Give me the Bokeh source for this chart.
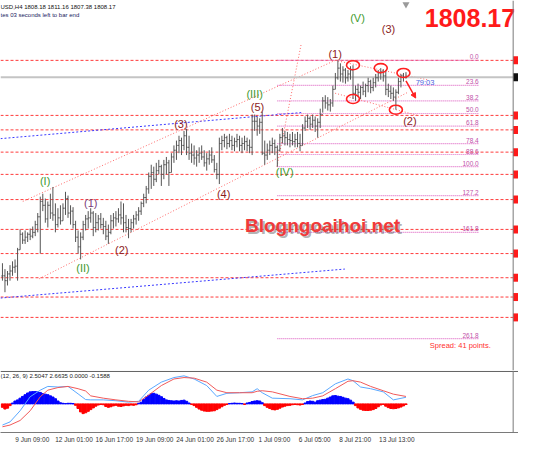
import numpy as np
from bokeh.plotting import figure
from bokeh.layouts import column
from bokeh.models import ColumnDataSource, Range1d, Span, FixedTicker, Arrow, NormalHead
from bokeh.core.properties import value
from bokeh.embed import file_html
from bokeh.resources import INLINE

# ---------------- data (XAUUSD H4) ----------------
high = [1700.4, 1697.0, 1695.9, 1699.3, 1701.5, 1702.6, 1709.3, 1720.0, 1718.3, 1719.4,
        1718.3, 1720.5, 1721.7, 1725.0, 1729.5, 1739.0, 1740.7, 1737.9, 1736.2, 1740.7,
        1744.6, 1735.1, 1732.3, 1734.0, 1735.1, 1741.8, 1739.6, 1734.0, 1732.9, 1725.0,
        1719.4, 1718.3, 1725.0, 1728.4, 1730.6, 1732.3, 1730.6, 1729.5, 1728.4, 1729.5,
        1726.7, 1725.0, 1722.8, 1728.4, 1729.5, 1730.6, 1732.3, 1736.2, 1735.1, 1728.4,
        1726.1, 1726.1, 1728.4, 1730.6, 1732.9, 1736.2, 1740.7, 1745.2, 1753.0, 1757.5,
        1756.4, 1758.6, 1760.3, 1757.5, 1760.3, 1762.0, 1760.3, 1764.2, 1768.7, 1771.5,
        1774.3, 1773.2, 1777.1, 1778.2, 1774.3, 1769.8, 1768.7, 1765.9, 1767.6, 1768.7,
        1765.9, 1764.2, 1765.9, 1767.6, 1763.1, 1758.6, 1773.2, 1774.3, 1775.4, 1774.3,
        1775.4, 1774.3, 1773.2, 1775.4, 1774.3, 1773.2, 1774.3, 1773.2, 1772.1, 1786.6,
        1786.6, 1785.5, 1784.4, 1788.3, 1771.5, 1769.8, 1771.5, 1773.2, 1772.1, 1768.7,
        1775.4, 1778.8, 1777.1, 1776.5, 1775.4, 1776.5, 1775.4, 1776.5, 1775.4, 1781.0,
        1785.5, 1786.6, 1785.5, 1786.6, 1785.5, 1784.4, 1790.0, 1796.7, 1797.8, 1796.7,
        1795.6, 1803.4, 1810.7, 1818.0, 1816.3, 1814.6, 1813.5, 1812.4, 1814.6, 1815.2,
        1803.4, 1804.5, 1803.4, 1805.7, 1804.5, 1807.9, 1806.8, 1807.9, 1810.1, 1812.4,
        1813.5, 1812.9, 1812.4, 1804.5, 1803.4, 1802.3, 1801.2, 1807.9, 1810.1, 1810.7,
        1811.16]
low = [1690.3, 1683.6, 1687.5, 1690.3, 1693.1, 1694.8, 1690.3, 1708.2, 1711.6, 1711.6,
       1712.7, 1713.8, 1714.9, 1716.1, 1718.3, 1706.0, 1730.6, 1723.9, 1721.1, 1726.1,
       1725.0, 1718.3, 1721.1, 1722.8, 1725.0, 1728.4, 1726.7, 1722.8, 1720.5, 1712.7,
       1706.0, 1702.6, 1713.8, 1719.4, 1720.5, 1723.9, 1716.1, 1718.3, 1719.4, 1720.5,
       1717.2, 1713.8, 1711.6, 1717.2, 1720.5, 1721.7, 1723.9, 1722.8, 1718.3, 1718.3,
       1714.9, 1718.3, 1720.5, 1722.8, 1725.0, 1728.4, 1732.9, 1735.1, 1740.7, 1743.5,
       1745.2, 1747.4, 1751.9, 1745.2, 1749.1, 1751.9, 1745.2, 1753.0, 1758.6, 1760.3,
       1764.2, 1763.1, 1765.9, 1763.1, 1760.3, 1758.6, 1757.5, 1756.4, 1758.6, 1760.3,
       1756.4, 1754.1, 1757.5, 1758.6, 1753.0, 1749.1, 1746.3, 1765.9, 1767.6, 1766.5,
       1767.6, 1765.9, 1765.3, 1767.6, 1765.3, 1764.2, 1765.9, 1765.3, 1764.2, 1763.1,
       1777.1, 1774.3, 1775.4, 1763.1, 1757.5, 1760.3, 1763.1, 1764.2, 1763.1, 1756.4,
       1765.3, 1769.8, 1768.7, 1768.7, 1767.6, 1768.7, 1767.6, 1767.6, 1765.3, 1768.7,
       1777.1, 1778.8, 1777.7, 1778.8, 1776.5, 1773.2, 1778.8, 1787.7, 1790.0, 1788.9,
       1788.3, 1791.1, 1801.2, 1806.8, 1805.7, 1805.1, 1804.5, 1805.7, 1806.8, 1795.6,
       1794.5, 1796.7, 1795.6, 1797.8, 1796.7, 1799.5, 1798.9, 1800.1, 1802.3, 1805.7,
       1806.8, 1805.7, 1797.8, 1796.7, 1795.6, 1794.5, 1789.4, 1798.4, 1802.3, 1805.7,
       1807.38]
close = [1693.1, 1690.3, 1694.2, 1695.9, 1698.1, 1698.7, 1708.2, 1717.2, 1713.8, 1715.5,
         1717.2, 1716.1, 1718.3, 1722.8, 1727.3, 1736.2, 1734.0, 1726.1, 1734.0, 1729.5,
         1728.4, 1722.8, 1726.7, 1725.0, 1732.3, 1737.9, 1729.5, 1730.6, 1722.8, 1715.5,
         1709.9, 1715.5, 1722.8, 1726.1, 1726.7, 1729.5, 1721.1, 1723.9, 1726.1, 1722.8,
         1721.7, 1716.1, 1718.3, 1725.0, 1726.7, 1726.1, 1728.4, 1726.7, 1723.9, 1721.1,
         1720.5, 1723.9, 1726.1, 1728.4, 1730.6, 1735.1, 1738.5, 1743.5, 1750.8, 1753.0,
         1749.1, 1754.1, 1756.4, 1751.9, 1757.5, 1758.6, 1753.0, 1762.0, 1765.9, 1768.7,
         1771.5, 1768.7, 1774.3, 1767.6, 1764.2, 1763.1, 1761.4, 1763.1, 1764.2, 1762.0,
         1758.6, 1760.9, 1763.1, 1760.3, 1754.7, 1751.9, 1769.8, 1771.5, 1773.2, 1769.8,
         1771.5, 1768.7, 1770.9, 1772.1, 1768.7, 1769.8, 1770.9, 1768.7, 1767.6, 1782.7,
         1782.7, 1779.9, 1782.1, 1764.2, 1763.1, 1765.9, 1768.7, 1769.8, 1767.6, 1765.9,
         1773.2, 1774.3, 1773.2, 1772.1, 1771.5, 1770.9, 1772.1, 1769.8, 1768.7, 1778.8,
         1782.7, 1784.4, 1781.0, 1783.3, 1779.9, 1782.1, 1786.6, 1794.5, 1793.3, 1792.2,
         1793.3, 1801.2, 1807.9, 1813.5, 1810.1, 1812.4, 1807.9, 1810.1, 1812.4, 1798.9,
         1801.2, 1799.5, 1802.3, 1800.1, 1803.4, 1805.7, 1802.3, 1805.1, 1807.9, 1810.7,
         1811.3, 1809.0, 1801.2, 1800.1, 1798.9, 1796.7, 1799.5, 1805.7, 1809.0, 1808.18,
         1808.17]
first_open = 1693.0

macd_hist = [-1.2, -1.8, -1.5, -0.6, 0.3, 1.0, 1.4, 2.0, 2.6, 3.2,
             3.8, 4.2, 4.3, 4.3, 4.2, 4.0, 3.6, 3.4, 3.2, 2.8,
             2.4, 1.8, 1.0, 0.4, 0.2, 0.1, 0.2, 0.2, 0.1, -0.5,
             -1.6, -2.8, -3.4, -3.1, -2.6, -2.0, -1.4, -0.8, -0.4, -0.2,
             -0.3, -0.9, -1.2, -1.0, -0.7, -0.5, -0.8, -0.9, -0.7, -0.5,
             -0.6, -0.4, -0.5, -0.3, 0.2, 0.6, 1.5, 2.4, 3.0, 3.6,
             3.7, 3.4, 3.0, 2.5, 1.9, 1.4, 1.2, 1.1, 1.0, 1.1,
             1.0, 1.2, 1.3, 0.9, 0.3, -0.2, -0.6, -1.2, -1.8, -2.2,
             -2.5, -2.6, -2.6, -2.5, -2.4, -2.0, -1.5, -1.0, -0.5, -0.2,
             0.1, 0.2, 0.3, 0.2, 0.2, 0.1, -0.2, 0.3, 0.5, 0.8,
             1.0, 1.1, 1.0, 0.4, -0.6, -1.2, -1.6, -2.0, -2.1, -1.9,
             -1.5, -1.1, -0.8, -0.6, -0.5, -0.3, -0.2, -0.3, -0.4, -0.2,
             0.3, 0.8, 1.0, 0.9, 0.6, 1.1, 1.3, 1.5, 1.6, 2.0,
             2.4, 2.8, 2.9, 2.7, 2.6, 2.3, 2.0, 1.8, 1.3, 0.6,
             -0.6, -1.4, -1.9, -2.2, -2.3, -2.3, -2.2, -2.0, -1.6, -1.0,
             -0.4, -0.2, -0.8, -1.3, -1.6, -1.7, -1.6, -1.4, -1.1, -0.7,
             -0.2]
macd_bars = [0, 3, 7, 11, 15, 18, 22, 26, 30, 33, 35, 40, 45, 50, 54, 58, 63, 68, 72, 76,
             81, 85, 89, 94, 99, 101, 103, 107, 114, 119, 123, 127, 132, 137, 139, 142, 146,
             151, 155, 160]
macd_main = [-7.4, -6.3, -2.4, 2.5, 4.8, 6.1, 5.9, 6.1, 3.5, 1.5, 1.4, 1.4, 1.1, 0.6, 0.9,
             4.8, 7.6, 9.2, 9.8, 8.7, 6.4, 2.6, 3.7, 3.9, 4.2, 5.3, 3.9, 2.0, 1.8, 1.4, 2.9,
             3.9, 7.0, 8.7, 8.1, 5.9, 5.3, 4.2, 1.4, 2.3]
macd_signal = [-8.0, -7.4, -5.8, -2.4, 2.5, 4.8, 5.7, 6.1, 5.3, 4.5, 2.8, 2.0, 1.4, 0.9, 0.7,
               3.1, 6.4, 8.7, 9.2, 9.0, 7.6, 4.8, 3.9, 3.9, 3.9, 4.4, 4.6, 4.2, 2.6, 1.8, 2.0,
               2.8, 5.3, 7.9, 8.1, 7.6, 6.1, 4.6, 3.4, 2.6]

red_levels = [1818.0, 1786.1, 1777.7, 1764.8, 1751.9, 1737.3, 1720.0, 1706.0, 1692.0, 1680.8, 1669.0]
fib_ratios = [0.0, 23.6, 38.2, 50.0, 61.8, 78.4, 88.6, 100.0, 127.2, 161.8, 261.8]
fib_top_bar, fib_bottom_bar = 133, 109

tick_bars = [6, 22, 38, 54, 70, 86, 102, 118, 134, 150]
tick_labels = ["9 Jun 09:00", "12 Jun 01:00", "16 Jun 17:00", "19 Jun 09:00", "24 Jun 01:00",
               "26 Jun 17:00", "1 Jul 09:00", "6 Jul 05:00", "8 Jul 21:00", "13 Jul 13:00"]

# ---------------- layout helpers (reference pixel -> data) ----------------
W, H = 518, 446
SY = H / 462.0
H_MAIN = int(round(383 * SY))
H_MACD = H - H_MAIN


def bx(xr):
    return (xr - 2.0) / 2.6


def py(yr):
    return 1852.7 - 0.56 * yr


def my(yr):
    return (418.0 - yr) / 3.0


FONT = value("Liberation Sans")
GREEN = "#3f9a2e"
DRED = "#8b1c1c"
BAR = "#555555"
BORDER = "#7a7a7a"

n = len(close)
idx = np.arange(n)
opens = [first_open] + close[:-1]

xr = Range1d(bx(0), bx(534))
p = figure(width=W, height=H_MAIN, x_range=xr, y_range=Range1d(py(383), py(0)),
           output_backend="svg", toolbar_location=None, min_border=0,
           x_axis_location=None, y_axis_location=None)
p.grid.visible = False
p.outline_line_color = None

x_border = bx(528.5)

# red support / resistance levels
p.segment(x0=[xr.start] * len(red_levels), y0=red_levels, x1=[x_border] * len(red_levels),
          y1=red_levels, line_color="#ff3b3b", line_width=1, line_dash="3 2")

# fibonacci retracement
fib_hi, fib_lo = high[fib_top_bar], low[fib_bottom_bar]
fib_prices = [fib_hi - r / 100.0 * (fib_hi - fib_lo) for r in fib_ratios]
fib_end = bx(493)
p.segment(x0=[fib_bottom_bar] * len(fib_prices), y0=fib_prices, x1=[fib_end] * len(fib_prices),
          y1=fib_prices, line_color="#e070c8", line_width=1.2, line_dash="1 1")
p.text(x=[fib_end] * len(fib_prices), y=fib_prices, text=["%.1f" % r for r in fib_ratios],
       text_font=FONT, text_font_size="6.5px", text_color="#c050a8",
       text_align="right", text_baseline="bottom", y_offset=-1)

# blue dotted trend lines
blue_lines = [((0, 308), (355, 278)), ((0, 143), (310, 116))]
for (a, b) in blue_lines:
    p.line([bx(a[0]), bx(b[0])], [py(a[1]), py(b[1])], line_color="#3a3aff",
           line_width=1, line_dash="2 2")

# red dotted channel lines
chan = [((23, 208), (345, 62)), ((40, 288), (420, 95)), ((285, 172), (310, 45)),
        ((345, 62), (440, 82)), ((345, 96), (430, 119))]
for (a, b) in chan:
    p.line([bx(a[0]), bx(b[0])], [py(a[1]), py(b[1])], line_color="#ff6a6a",
           line_width=1, line_dash="1 2")

# current price line
p.line([xr.start, x_border], [close[-1], close[-1]], line_color="#c4c4c4", line_width=2)

# OHLC bars
p.segment(x0=idx, y0=low, x1=idx, y1=high, line_color=BAR, line_width=1)
p.segment(x0=idx - 0.45, y0=opens, x1=idx, y1=opens, line_color=BAR, line_width=1)
p.segment(x0=idx, y0=close, x1=idx + 0.45, y1=close, line_color=BAR, line_width=1)

# red ellipses on swing points
cb = [139, 139, 150, 156, 159]
cy = [high[139], low[139], high[150], low[156], high[159]]
p.ellipse(x=cb, y=cy, width=13, height=9, width_units="screen", height_units="screen",
          fill_color=None, line_color="#ff2020", line_width=1.6)

p.add_layout(Arrow(end=NormalHead(size=5, fill_color="#ff2020", line_color="#ff2020"),
                   x_start=n - 1, y_start=close[-1] - 2, x_end=bx(428), y_end=py(101),
                   line_color="#ff2020", line_width=1.5))

# wave labels (reference positions)
waves = [("(I)", 46, 187, GREEN), ("(II)", 85, 277, GREEN), ("(III)", 262, 97, GREEN),
         ("(IV)", 293, 178, GREEN), ("(V)", 368, 18, GREEN),
         ("(1)", 93, 210, "#7a3a7a"), ("(2)", 125, 258, DRED), ("(3)", 186, 128, DRED),
         ("(4)", 230, 200, DRED), ("(5)", 265, 110, DRED), ("(1)", 345, 55, DRED),
         ("(2)", 422, 125, DRED), ("(3)", 400, 30, DRED)]
wsrc = ColumnDataSource(dict(x=[bx(w[1]) for w in waves], y=[py(w[2]) for w in waves],
                             t=[w[0] for w in waves], c=[w[3] for w in waves]))
p.text(x="x", y="y", text="t", text_color="c", source=wsrc, text_font=FONT,
       text_font_size="11px", text_align="center", text_baseline="middle")

# header texts
p.text(x=[bx(0)], y=[py(7)],
       text=["USD,H4  %.2f %.2f %.2f %.2f" % (opens[-1], high[-1], low[-1], close[-1])],
       text_font=FONT, text_font_size="6px", text_color="#111111", text_baseline="middle")
p.text(x=[bx(0)], y=[py(15)], text=["tes 03 seconds left to bar end"],
       text_font=FONT, text_font_size="6px", text_color="#1a1a60", text_baseline="middle")

p.text(x=[bx(484)], y=[py(18)], text=["%.2f" % close[-1]], text_font=FONT,
       text_font_size="25px", text_font_style="bold", text_color="#ff1a1a",
       text_align="center", text_baseline="middle")

p.text(x=[bx(332)], y=[py(233)], text=["Blogngoaihoi.net"], text_font=FONT,
       text_font_size="19px", text_font_style="bold", text_color="#555555", text_alpha=0.45,
       text_align="center", text_baseline="middle", x_offset=2, y_offset=2)
p.text(x=[bx(332)], y=[py(233)], text=["Blogngoaihoi.net"], text_font=FONT,
       text_font_size="19px", text_font_style="bold", text_color="#f03a3a",
       text_align="center", text_baseline="middle")

p.text(x=[bx(474)], y=[py(357)], text=["Spread: 41 points."], text_font=FONT,
       text_font_size="7.5px", text_color="#ff3030", text_align="center", text_baseline="middle")

p.text(x=[bx(428)], y=[py(85)], text=["79:03"], text_font=FONT, text_font_size="7.5px",
       text_color="#4a62e0", text_align="left", text_baseline="middle")

p.scatter(x=[n - 1], y=[py(4)], marker="inverted_triangle", size=7, fill_color="#9a9a9a",
          line_color=None)

# right edge: border, tags
p.add_layout(Span(location=x_border, dimension="height", line_color=BORDER, line_width=1))
p.rect(x=[bx(532)] * len(red_levels), y=red_levels, width=7, height=8, width_units="screen",
       height_units="screen", fill_color="#ff1a1a", line_color=None)
p.rect(x=[bx(532)], y=[close[-1]], width=7, height=8, width_units="screen",
       height_units="screen", fill_color="#111111", line_color=None)

# ---------------- MACD panel ----------------
m = figure(width=W, height=H_MACD, x_range=xr, y_range=Range1d(my(448), my(383)),
           output_backend="svg", toolbar_location=None, min_border=0, min_border_bottom=14,
           y_axis_location=None)
m.grid.visible = False
m.outline_line_color = None
m.vbar(x=idx, top=macd_hist, bottom=0, width=0.9,
       color=["#0000ff" if v >= 0 else "#ff0000" for v in macd_hist])
m.line(macd_bars, macd_main, line_color="#5aa8ff", line_width=1)
m.line(macd_bars, macd_signal, line_color="#f05a5a", line_width=1)
m.add_layout(Span(location=my(384), dimension="width", line_color="#606060", line_width=1))
m.add_layout(Span(location=x_border, dimension="height", line_color=BORDER, line_width=1))
m.text(x=[bx(0)], y=[my(389)], text=["(12, 26, 9) 2.5047 2.6635 0.0000 -0.1588"],
       text_font=FONT, text_font_size="6px", text_color="#222222", text_baseline="middle")

tick_pos = [round(b + len(l) * 0.53, 2) for b, l in zip(tick_bars, tick_labels)]
m.xaxis.ticker = FixedTicker(ticks=tick_pos)
m.xaxis.major_label_overrides = {t: l for t, l in zip(tick_pos, tick_labels)}
m.xaxis.axis_line_color = BORDER
m.xaxis.major_tick_line_color = None
m.xaxis.minor_tick_line_color = None
m.xaxis.major_tick_out = 1
m.xaxis.major_tick_in = 0
m.xaxis.major_label_standoff = 2
m.xaxis.major_label_text_font = "Liberation Sans"
m.xaxis.major_label_text_font_size = "6.5px"
m.xaxis.major_label_text_color = "#333333"

layout = column(p, m, spacing=0)
open("out.html", "w").write(file_html(layout, INLINE))
